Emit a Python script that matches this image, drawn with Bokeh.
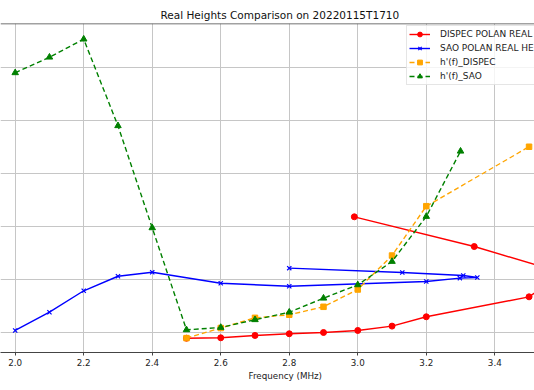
from bokeh.plotting import figure
from bokeh.models import Range1d, FixedTicker, Span, Legend, LegendItem, Title
from bokeh.embed import file_html
from bokeh.resources import INLINE

# ---------------- data ----------------
title_text = "Real Heights Comparison on 20220115T1710"
x_label = "Frequency (MHz)"

x_ticks = [2.0, 2.2, 2.4, 2.6, 2.8, 3.0, 3.2, 3.4]
x_tick_labels = ["2.0", "2.2", "2.4", "2.6", "2.8", "3.0", "3.2", "3.4"]
y_grid_ticks = [100, 150, 200, 250, 300, 350, 400]

dispec_real_f = [2.5, 2.6, 2.7, 2.8, 2.9, 3.0, 3.1, 3.2, 3.5, 3.6, 3.34, 2.99]
dispec_real_h = [94.9, 95.3, 97.5, 99.1, 100.3, 102.2, 106.3, 115.1, 133.9, 156.3, 181.3, 209.3]

sao_real_f = [2.0, 2.1, 2.2, 2.3, 2.4, 2.6, 2.8, 3.2, 3.298, 3.349, 3.308, 3.13, 2.8]
sao_real_h = [102.2, 119.4, 139.6, 153.3, 157.1, 146.7, 143.9, 148.3, 151.5, 152.1, 154.0, 156.8, 160.9]

hf_dispec_f = [2.5, 2.6, 2.7, 2.8, 2.9, 3.0, 3.1, 3.2, 3.5]
hf_dispec_h = [95.0, 104.5, 114.1, 117.0, 124.5, 140.8, 172.8, 219.3, 275.3]

hf_sao_f = [2.0, 2.1, 2.2, 2.3, 2.4, 2.5, 2.6, 2.7, 2.8, 2.9, 3.0, 3.1, 3.2, 3.3]
hf_sao_h = [345.0, 359.7, 376.7, 295.1, 198.9, 102.8, 105.0, 112.3, 119.4, 132.6, 145.2, 167.2, 209.6, 271.1]

labels = ["DISPEC POLAN REAL HEIGHTS", "SAO POLAN REAL HEIGHTS", "h'(f)_DISPEC", "h'(f)_SAO"]

# ---------------- view ----------------
FONT = "DejaVu Sans"
x0, x1 = 1.95709, 3.51590
y0, y1 = 81.44, 391.45

p = figure(width=534, height=390, x_range=Range1d(x0, x1), y_range=Range1d(y0, y1),
           output_backend="svg", toolbar_location=None, y_axis_location=None,
           min_border_left=0, min_border_right=0, min_border_top=23, min_border_bottom=38,
           title=title_text)
p.background_fill_color = "white"
p.border_fill_color = "white"
p.outline_line_color = None

p.title.text_font = FONT
p.title.text_font_size = "10.5px"
p.title.text_font_style = "normal"
p.title.text_color = "#111111"
p.title.align = "left"
p.title.offset = 160
p.title.standoff = 6

ax = p.xaxis[0]
ax.ticker = FixedTicker(ticks=x_ticks)
ax.major_label_overrides = {t: l for t, l in zip(x_ticks, x_tick_labels)}
ax.major_label_text_font = FONT
ax.major_label_text_font_size = "8.75px"
ax.major_label_text_color = "#222222"
ax.major_tick_in = 0
ax.major_tick_out = 3
ax.minor_tick_line_color = None
ax.major_label_standoff = 3
ax.axis_line_color = "#444444"
ax.major_tick_line_color = "#444444"

xl = Title(text=x_label, align="left", offset=248, text_font=FONT,
           text_font_size="8.75px", text_font_style="normal", text_color="#222222", standoff=0)
p.add_layout(xl, "below")

p.xgrid.ticker = FixedTicker(ticks=x_ticks)
p.ygrid.ticker = FixedTicker(ticks=y_grid_ticks)
for g in (p.xgrid[0], p.ygrid[0]):
    g.grid_line_color = "#c6c6c6"
    g.grid_line_width = 1

p.add_layout(Span(location=y1, dimension="width", line_color="#444444", line_width=1.3))

LW = 1.4
r1l = p.line(dispec_real_f, dispec_real_h, line_color="red", line_width=LW)
r1s = p.scatter(dispec_real_f, dispec_real_h, marker="circle", size=6, color="red")
r2l = p.line(sao_real_f, sao_real_h, line_color="blue", line_width=LW)
r2s = p.scatter(sao_real_f, sao_real_h, marker="x", size=6, line_color="blue", line_width=1.2)
r3l = p.line(hf_dispec_f, hf_dispec_h, line_color="orange", line_width=LW, line_dash="5 3")
r3s = p.scatter(hf_dispec_f, hf_dispec_h, marker="square", size=5.5, color="orange")
r4l = p.line(hf_sao_f, hf_sao_h, line_color="green", line_width=LW, line_dash="5 3")
r4s = p.scatter(hf_sao_f, hf_sao_h, marker="triangle", size=6.5, color="green")

legend = Legend(items=[LegendItem(label=labels[0], renderers=[r1l, r1s]),
                       LegendItem(label=labels[1], renderers=[r2l, r2s]),
                       LegendItem(label=labels[2], renderers=[r3l, r3s]),
                       LegendItem(label=labels[3], renderers=[r4l, r4s])],
                location=(406, 267))
legend.label_text_font = FONT
legend.label_text_font_size = "9px"
legend.label_text_color = "#222222"
legend.glyph_width = 21
legend.glyph_height = 12
legend.label_height = 12
legend.label_standoff = 10
legend.padding = 2
legend.spacing = 2
legend.margin = 0
legend.border_line_color = "#cccccc"
legend.background_fill_alpha = 0.8
p.add_layout(legend)

open("out.html", "w").write(file_html(p, INLINE))
